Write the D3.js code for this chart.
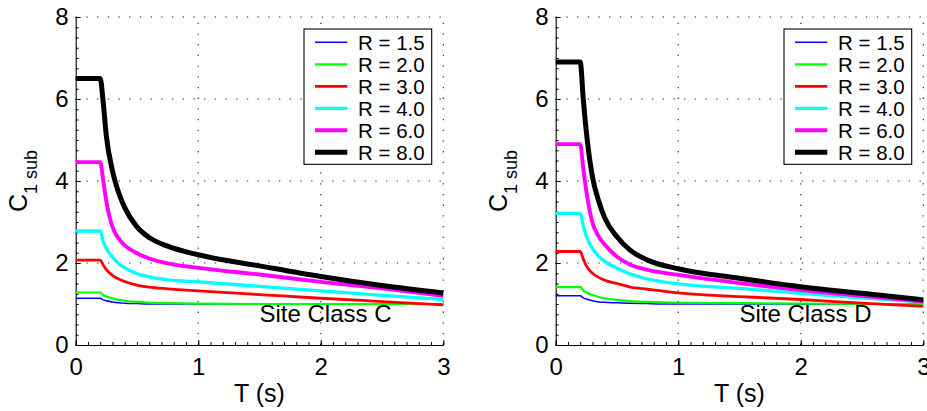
<!DOCTYPE html>
<html>
<head>
<meta charset="utf-8">
<script src="https://cdn.jsdelivr.net/npm/d3@7"></script>
<style>
  body { margin: 0; background: #fff; }
  svg { font-family: "Liberation Sans", Arial, Helvetica, sans-serif; }
</style>
</head>
<body>
<svg></svg>
<script>
const svgWidth = 927
const svgHeight = 411

// periods T (s)
const periods = [0, 0.2, 0.225, 0.25, 0.3, 0.35, 0.4, 0.5, 0.6, 0.75, 1.0, 1.5, 2.0, 2.5, 3.0]

const rLabels = ["R = 1.5", "R = 2.0", "R = 3.0", "R = 4.0", "R = 6.0", "R = 8.0"]

// Site Class C
const siteC_R15 = [1.14, 1.14, 1.10, 1.08, 1.05, 1.03, 1.02, 1.01, 1.00, 1.00, 1.00, 1.00, 1.00, 1.00, 1.00]
const siteC_R20 = [1.28, 1.28, 1.22, 1.18, 1.14, 1.10, 1.08, 1.05, 1.03, 1.02, 1.01, 1.00, 1.00, 1.00, 1.00]
const siteC_R30 = [2.07, 2.07, 1.95, 1.84, 1.70, 1.61, 1.55, 1.46, 1.41, 1.37, 1.32, 1.23, 1.14, 1.06, 0.98]
const siteC_R40 = [2.78, 2.78, 2.52, 2.36, 2.14, 1.99, 1.88, 1.74, 1.66, 1.59, 1.54, 1.43, 1.32, 1.21, 1.11]
const siteC_R60 = [4.46, 4.46, 4.00, 3.50, 2.88, 2.60, 2.43, 2.24, 2.11, 1.99, 1.88, 1.72, 1.54, 1.38, 1.20]
const siteC_R80 = [6.50, 6.50, 5.90, 5.10, 4.25, 3.72, 3.35, 2.88, 2.62, 2.41, 2.20, 1.93, 1.67, 1.45, 1.27]

// Site Class D
const siteD_R15 = [1.20, 1.20, 1.15, 1.12, 1.08, 1.05, 1.04, 1.03, 1.02, 1.01, 1.00, 1.00, 1.00, 1.00, 1.00]
const siteD_R20 = [1.41, 1.41, 1.33, 1.28, 1.22, 1.17, 1.14, 1.10, 1.07, 1.05, 1.03, 1.02, 1.01, 1.00, 1.00]
const siteD_R30 = [2.28, 2.28, 2.10, 1.93, 1.75, 1.65, 1.58, 1.50, 1.42, 1.36, 1.27, 1.18, 1.11, 1.02, 0.94]
const siteD_R40 = [3.21, 3.21, 2.90, 2.66, 2.35, 2.17, 2.04, 1.87, 1.74, 1.61, 1.49, 1.38, 1.26, 1.15, 1.05]
const siteD_R60 = [4.90, 4.90, 4.30, 3.75, 2.98, 2.65, 2.45, 2.15, 1.97, 1.83, 1.71, 1.51, 1.34, 1.20, 1.06]
const siteD_R80 = [6.90, 6.90, 6.00, 5.20, 4.10, 3.52, 3.10, 2.64, 2.33, 2.07, 1.86, 1.63, 1.42, 1.26, 1.10]

const colors = ["#0000ff", "#00ff00", "#ff0000", "#00ffff", "#ff00ff", "#000000"]
const widths = [1.5, 2.2, 2.8, 3.3, 3.9, 5]

const svg = d3.select("svg")
  .attr("width", svgWidth)
  .attr("height", svgHeight)

const plotTop = 17
const plotBottom = 345
const plotWidth = 367.6

function drawPanel(left, series, siteText) {
  const xScale = d3.scaleLinear().domain([0, 3]).range([left, left + plotWidth])
  const yScale = d3.scaleLinear().domain([0, 8]).range([plotBottom, plotTop])

  const g = svg.append("g")

  // dotted grid
  g.selectAll(".vgrid")
    .data([1, 2, 3])
    .enter()
    .append("line")
    .attr("x1", d => xScale(d)).attr("x2", d => xScale(d))
    .attr("y1", plotBottom).attr("y2", plotTop)
    .attr("stroke", "#222").attr("stroke-width", 1.1)
    .attr("stroke-dasharray", "1.3,9.4")
  g.selectAll(".hgrid")
    .data([2, 4, 6, 8])
    .enter()
    .append("line")
    .attr("x1", left).attr("x2", left + plotWidth)
    .attr("y1", d => yScale(d)).attr("y2", d => yScale(d))
    .attr("stroke", "#222").attr("stroke-width", 1.1)
    .attr("stroke-dasharray", "1.3,9.4")

  // minor ticks
  g.append("g")
    .attr("transform", `translate(0,${plotBottom})`)
    .call(d3.axisBottom(xScale).tickValues(d3.range(0, 30.5, 1).map(d => d / 10)).tickSize(-3).tickSizeOuter(0).tickFormat(""))
    .call(a => a.select(".domain").remove())
  g.append("g")
    .attr("transform", `translate(${left},0)`)
    .call(d3.axisLeft(yScale).tickValues(d3.range(0, 32.5, 1).map(d => d / 4)).tickSize(-3).tickSizeOuter(0).tickFormat(""))
    .call(a => a.select(".domain").remove())

  // major ticks + labels
  const xAxis = g.append("g")
    .attr("transform", `translate(0,${plotBottom})`)
    .call(d3.axisBottom(xScale).tickValues([0, 1, 2, 3]).tickSize(-5).tickSizeOuter(0).tickPadding(13).tickFormat(d3.format("d")))
  const yAxis = g.append("g")
    .attr("transform", `translate(${left},0)`)
    .call(d3.axisLeft(yScale).tickValues([0, 2, 4, 6, 8]).tickSize(-5).tickSizeOuter(0).tickPadding(7).tickFormat(d3.format("d")))
  ;[xAxis, yAxis].forEach(a => {
    a.selectAll("text").attr("font-size", 24).attr("fill", "#000").attr("font-family", "Liberation Sans, Arial, sans-serif")
    a.selectAll("line").attr("stroke", "#000")
    a.select(".domain").attr("stroke", "#000").attr("stroke-width", 1.1)
  })
  g.selectAll(".tick line").attr("stroke", "#000")

  // curves
  const line = d3.line()
    .x((d, i) => xScale(periods[i]))
    .y(d => yScale(d))
    .curve(d3.curveMonotoneX)

  series.forEach((s, i) => {
    g.append("path")
      .datum(s)
      .attr("d", line)
      .attr("fill", "none")
      .attr("stroke", colors[i])
      .attr("stroke-width", widths[i])
      .attr("stroke-linejoin", "round")
  })

  // annotation
  g.append("text")
    .attr("x", xScale(1.5))
    .attr("y", yScale(0.56))
    .attr("font-size", 24)
    .text(siteText)

  // axis labels
  g.append("text")
    .attr("x", xScale(1.5))
    .attr("y", 402)
    .attr("text-anchor", "middle")
    .attr("font-size", 25)
    .text("T (s)")

  const yl = g.append("text")
    .attr("transform", `translate(${left - 49},${(plotTop + plotBottom) / 2}) rotate(-90)`)
    .attr("text-anchor", "middle")
    .attr("font-size", 25)
  yl.append("tspan").text("C")
  yl.append("tspan").attr("font-size", 18).attr("dy", 10).text("1 sub")

  // legend
  const lx = left + 228.3
  const ly = 29
  const legend = g.append("g")
  legend.append("rect")
    .attr("x", lx).attr("y", ly)
    .attr("width", 127.7).attr("height", 135.3)
    .attr("fill", "#fff").attr("stroke", "#000").attr("stroke-width", 1.1)
  legend.selectAll(".legend-line")
    .data(rLabels)
    .enter()
    .append("line")
    .attr("x1", lx + 11).attr("x2", lx + 43.3)
    .attr("y1", (d, i) => 42.3 + i * 22).attr("y2", (d, i) => 42.3 + i * 22)
    .attr("stroke", (d, i) => colors[i])
    .attr("stroke-width", (d, i) => widths[i])
  legend.selectAll(".legend-text")
    .data(rLabels)
    .enter()
    .append("text")
    .attr("x", lx + 54)
    .attr("y", (d, i) => 42.3 + i * 22)
    .attr("dy", "0.36em")
    .attr("font-size", 20.5)
    .text(d => d)
}

drawPanel(75.7, [siteC_R15, siteC_R20, siteC_R30, siteC_R40, siteC_R60, siteC_R80], "Site Class C")
drawPanel(555.7, [siteD_R15, siteD_R20, siteD_R30, siteD_R40, siteD_R60, siteD_R80], "Site Class D")
</script>
</body>
</html>
